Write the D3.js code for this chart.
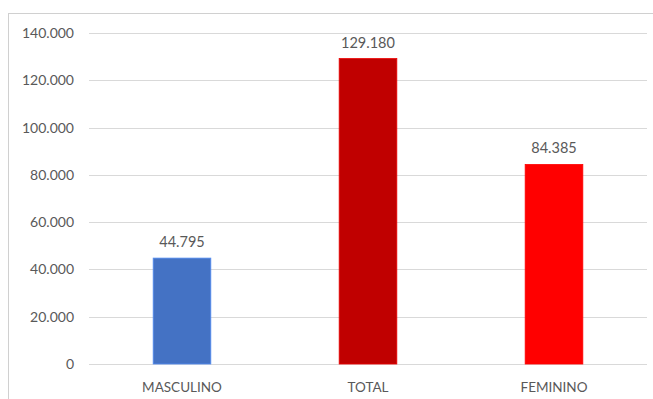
<!DOCTYPE html>
<html>
<head>
<meta charset="utf-8">
<script src="https://cdn.jsdelivr.net/npm/d3@7"></script>
<style>
  html, body { margin: 0; padding: 0; background: #fff; }
  svg { display: block; }
  text { font-family: Lato, "Open Sans", sans-serif; fill: #595959; }
</style>
</head>
<body>
<svg id="chart" width="653" height="399"></svg>
<script>
const categories = ["MASCULINO", "TOTAL", "FEMININO"];
const values = [44795, 129180, 84385];
const colors = ["#4472C4", "#C00000", "#FF0000"];
const yTicks = [0, 20000, 40000, 60000, 80000, 100000, 120000, 140000];

const svg = d3.select("#chart");
const plot = { left: 89, right: 647, top: 33, bottom: 364 };

// Chart frame (continues past the right and bottom edges)
svg.append("rect")
  .attr("x", 8.5).attr("y", 13.5)
  .attr("width", 700).attr("height", 420)
  .attr("fill", "none").attr("stroke", "#d0d0d0").attr("stroke-width", 1);

const x = d3.scaleBand().domain(categories)
  .range([plot.left, plot.right]).paddingInner(0.69).paddingOuter(0.345);
const y = d3.scaleLinear().domain([0, 140000]).range([plot.bottom, plot.top]);

const fmt = v => d3.format(",")(v).replace(/,/g, ".");

// Horizontal gridlines
svg.append("g").selectAll("line").data(yTicks).join("line")
  .attr("x1", plot.left).attr("x2", plot.right)
  .attr("y1", d => Math.round(y(d)) + 0.5).attr("y2", d => Math.round(y(d)) + 0.5)
  .attr("stroke", "#d9d9d9").attr("stroke-width", 1);

// Y axis labels
const yAxis = d3.axisLeft(y).tickValues(yTicks).tickSize(0).tickPadding(0)
  .tickFormat(fmt);
const ya = svg.append("g").attr("transform", `translate(${74},0)`).call(yAxis);
ya.select(".domain").remove();
ya.selectAll("text").style("font-size", "14px").attr("fill", "#595959")
  .style("font-family", "Lato, 'Open Sans', sans-serif");

// Bars
const data = categories.map((c, i) => ({ c, v: values[i], col: colors[i] }));
svg.append("g").selectAll("rect").data(data).join("rect")
  .attr("x", d => x(d.c)).attr("width", x.bandwidth())
  .attr("y", d => y(d.v)).attr("height", d => y(0) - y(d.v))
  .attr("fill", d => d.col)
  .attr("stroke", d => d3.color(d.col).brighter(0.6)).attr("stroke-width", 0.8);

// Value labels
svg.append("g").selectAll("text").data(data).join("text")
  .attr("x", d => x(d.c) + x.bandwidth() / 2)
  .attr("y", d => y(d.v) - 11)
  .attr("text-anchor", "middle")
  .style("font-size", "14.5px")
  .text(d => fmt(d.v));

// Category labels
const xAxis = d3.axisBottom(x).tickSize(0).tickPadding(0);
const xa = svg.append("g").attr("transform", `translate(0,${382})`).call(xAxis);
xa.select(".domain").remove();
xa.selectAll("text").style("font-size", "13.5px").attr("fill", "#595959")
  .attr("dy", "0.35em").attr("y", 5)
  .style("font-family", "Lato, 'Open Sans', sans-serif");
</script>
</body>
</html>
